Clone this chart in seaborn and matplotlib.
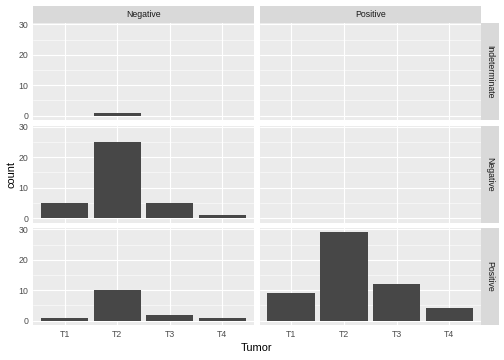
import matplotlib
matplotlib.use("Agg")
import pandas as pd
import matplotlib.pyplot as plt
import seaborn as sns

# Data (counts of Tumor stage per facet)
TUMOR = ["T1", "T2", "T3", "T4"]
COL_LEVELS = ["Negative", "Positive"]
ROW_LEVELS = ["Indeterminate", "Negative", "Positive"]

indet_neg = [0, 1, 0, 0]
indet_pos = [0, 0, 0, 0]
neg_neg = [5, 25, 5, 1]
neg_pos = [0, 0, 0, 0]
pos_neg = [1, 10, 2, 1]
pos_pos = [9, 29, 12, 4]

Y_TICKS = [0, 10, 20, 30]

# Style (ggplot2 grey theme look)
BAR = "#474747"
PANEL_BG = "#EBEBEB"
STRIP_BG = "#D9D9D9"
W, H = 504, 360


def main():
    counts = {
        ("Indeterminate", "Negative"): indet_neg,
        ("Indeterminate", "Positive"): indet_pos,
        ("Negative", "Negative"): neg_neg,
        ("Negative", "Positive"): neg_pos,
        ("Positive", "Negative"): pos_neg,
        ("Positive", "Positive"): pos_pos,
    }
    rows = []
    for (r, c), vals in counts.items():
        for t, v in zip(TUMOR, vals):
            rows.append({"row": r, "col": c, "Tumor": t, "count": v})
    df = pd.DataFrame(rows)

    sns.set_style("white")
    plt.rcParams["font.family"] = ["Liberation Sans", "DejaVu Sans"]

    fig = plt.figure(figsize=(W / 72, H / 72), dpi=72)

    def px_axes(x0, y0, x1, y1):
        return fig.add_axes([x0 / W, 1 - y1 / H, (x1 - x0) / W, (y1 - y0) / H])

    col_x = [(33, 254), (259.5, 481)]
    row_y = [(23, 120), (125.5, 222.5), (228, 325)]
    ymax = max(max(v) for v in counts.values())
    pad = ymax * 0.05

    for i, r in enumerate(ROW_LEVELS):
        for j, c in enumerate(COL_LEVELS):
            ax = px_axes(col_x[j][0], row_y[i][0], col_x[j][1], row_y[i][1])
            ax.set_facecolor(PANEL_BG)
            sub = df[(df["row"] == r) & (df["col"] == c)]
            sns.barplot(data=sub, x="Tumor", y="count", order=TUMOR, color=BAR,
                        saturation=1, width=0.9, linewidth=0, errorbar=None, ax=ax)
            ax.set_xlim(-0.6, 3.6)
            ax.set_ylim(-pad, ymax + pad)
            ax.set_yticks(Y_TICKS)
            ax.set_yticks([5, 15, 25], minor=True)
            ax.set_axisbelow(True)
            ax.grid(which="major", color="white", linewidth=1.1)
            ax.grid(which="minor", axis="y", color="white", linewidth=0.55)
            for s in ax.spines.values():
                s.set_visible(False)
            ax.set_xlabel("")
            ax.set_ylabel("")
            ax.tick_params(which="minor", length=0)
            ax.tick_params(which="major", length=2.75, width=1.0, color="#333333",
                           labelsize=8.8, labelcolor="#4D4D4D", pad=2.2)
            if j != 0:
                ax.tick_params(axis="y", length=0, labelleft=False)
            if i != len(ROW_LEVELS) - 1:
                ax.tick_params(axis="x", length=0, labelbottom=False)

    # column strips
    for j, c in enumerate(COL_LEVELS):
        sax = px_axes(col_x[j][0], 5.5, col_x[j][1], 23)
        sax.set_facecolor(STRIP_BG)
        sax.set_xticks([])
        sax.set_yticks([])
        for s in sax.spines.values():
            s.set_visible(False)
        sax.text(0.5, 0.5, c, ha="center", va="center", fontsize=8.8,
                 color="#1A1A1A", transform=sax.transAxes)

    # row strips
    for i, r in enumerate(ROW_LEVELS):
        sax = px_axes(481, row_y[i][0], 498.5, row_y[i][1])
        sax.set_facecolor(STRIP_BG)
        sax.set_xticks([])
        sax.set_yticks([])
        for s in sax.spines.values():
            s.set_visible(False)
        sax.text(0.5, 0.5, r, ha="center", va="center", fontsize=8.8, rotation=-90,
                 color="#1A1A1A", transform=sax.transAxes)

    fig.text(11.5 / W, 1 - 174 / H, "count", rotation=90, ha="center", va="center",
             fontsize=11, color="black")
    fig.text(257 / W, 1 - 348 / H, "Tumor", ha="center", va="center",
             fontsize=11, color="black")

    fig.savefig("out.png", dpi=72)
    plt.close(fig)


if __name__ == "__main__":
    main()
